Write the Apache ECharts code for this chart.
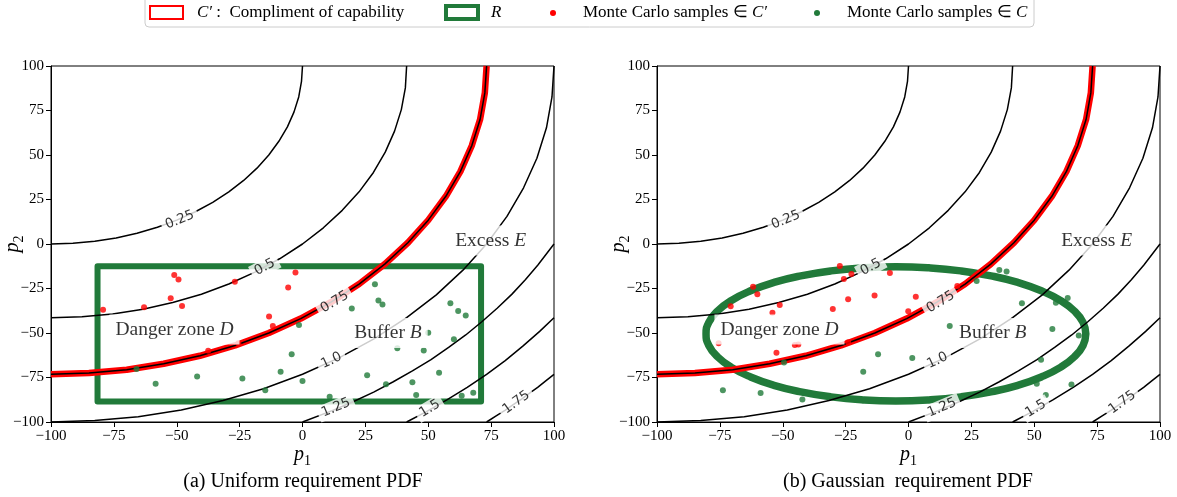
<!DOCTYPE html>
<html><head><meta charset="utf-8">
<script src="https://cdn.jsdelivr.net/npm/echarts@6/dist/echarts.min.js"></script>
<style>html,body{margin:0;padding:0;background:#fff}#c{width:1177px;height:497px}</style>
</head><body><div id="c"></div>
<script>
// ---- data ----
const xTicks = [-100, -75, -50, -25, 0, 25, 50, 75, 100];
const yTicks = [-100, -75, -50, -25, 0, 25, 50, 75, 100];
const contourLevels = ['0.25', '0.5', '0.75', '1.0', '1.25', '1.5', '1.75'];
const c025 = [[-100,0],[-91.3,0.4],[-82.6,1.5],[-74.1,3.4],[-65.8,6.0],[-57.7,9.4],[-50,13.4],[-42.6,18.1],[-35.7,23.4],[-29.3,29.3],[-23.4,35.7],[-18.1,42.6],[-13.4,50],[-9.4,57.7],[-6.0,65.8],[-3.4,74.1],[-1.5,82.6],[-0.4,91.3],[0,100]];
const c050 = [[-100,-41.4],[-87.7,-40.9],[-75.5,-39.3],[-63.4,-36.6],[-51.6,-32.9],[-40.2,-28.2],[-29.3,-22.5],[-18.9,-15.8],[-9.1,-8.3],[0,0],[8.3,9.1],[15.8,18.9],[22.5,29.3],[28.2,40.2],[32.9,51.6],[36.6,63.4],[39.3,75.5],[40.9,87.7],[41.4,100]];
const c075 = [[-100,-73.2],[-84.9,-72.5],[-69.9,-70.6],[-55.2,-67.3],[-40.8,-62.8],[-26.8,-57.0],[-13.4,-50],[-0.7,-41.9],[11.3,-32.7],[22.5,-22.5],[32.7,-11.3],[41.9,0.7],[50,13.4],[57.0,26.8],[62.8,40.8],[67.3,55.2],[70.6,69.9],[72.5,84.9],[73.2,100]];
const c100 = [[-100,-100],[-82.6,-99.2],[-65.3,-97.0],[-48.2,-93.2],[-31.6,-87.9],[-15.5,-81.3],[0,-73.2],[14.7,-63.8],[28.6,-53.2],[41.4,-41.4],[53.2,-28.6],[63.8,-14.7],[73.2,0],[81.3,15.5],[87.9,31.6],[93.2,48.2],[97.0,65.3],[99.2,82.6],[100,100]];
const c125 = [[0,-100],[11.8,-93.6],[20.1,-88.6],[28.3,-83.2],[36.1,-77.4],[43.7,-71.3],[51.1,-64.9],[58.1,-58.1],[64.9,-51.1],[71.3,-43.7],[77.4,-36.1],[83.2,-28.3],[88.6,-20.1],[93.6,-11.8],[100,0]];
const c150 = [[41.4,-100],[49.1,-94.3],[57.4,-87.6],[65.5,-80.6],[73.2,-73.2],[80.6,-65.5],[87.6,-57.4],[94.3,-49.1],[100,-41.4]];
const c175 = [[73.2,-100],[77.0,-96.6],[80.5,-93.5],[83.8,-90.3],[87.1,-87.1],[90.3,-83.8],[93.5,-80.5],[96.6,-77.0],[100,-73.2]];
const contourLabelAt = [[-48.8,13.5],[-15,-13],[12.8,-32.6],[11.5,-65.5],[13.3,-92],[50.6,-92.5],[85,-89]];
const contourLabelRot = [22, 28, 31, 25, 23, 31, 36];

const rectR = [[-81.5,-12.5],[71,-12.5],[71,-88.5],[-81.5,-88.5],[-81.5,-12.5]];
const ellipseR = [[70.5,-50.5],[69.4,-44.0],[65.9,-37.6],[60.4,-31.7],[52.8,-26.3],[43.5,-21.6],[32.8,-17.9],[20.8,-15.1],[8.1,-13.4],[-5,-12.8],[-18.1,-13.4],[-30.8,-15.1],[-42.8,-17.9],[-53.5,-21.6],[-62.8,-26.3],[-70.4,-31.7],[-75.9,-37.6],[-79.4,-44.0],[-80.5,-50.5],[-79.4,-57.0],[-75.9,-63.4],[-70.4,-69.3],[-62.8,-74.7],[-53.5,-79.4],[-42.8,-83.1],[-30.8,-85.9],[-18.1,-87.6],[-5,-88.2],[8.1,-87.6],[20.8,-85.9],[32.8,-83.1],[43.5,-79.4],[52.8,-74.7],[60.4,-69.3],[65.9,-63.4],[69.4,-57.0],[70.5,-50.5]];

const leftRed = [[-51.0,-17.4],[-49.3,-20.0],[-26.9,-21.2],[-2.8,-16.0],[-5.7,-24.4],[-52.4,-30.5],[-79.3,-36.9],[-63.0,-35.6],[-47.9,-34.8],[-13.3,-40.8],[-11.8,-46.1],[-37.5,-60.0],[-25.5,-55.8]];
const leftGreen = [[28.8,-22.6],[30.2,-31.8],[31.8,-34.0],[19.6,-36.3],[58.8,-33.3],[61.9,-37.7],[64.9,-40.1],[-1.4,-45.5],[50.0,-49.8],[60.2,-53.5],[37.7,-58.6],[48.2,-59.8],[-4.3,-62.0],[-8.7,-71.7],[0,-77.0],[-23.9,-75.5],[-41.9,-74.5],[-58.4,-78.5],[-66.0,-70.2],[-14.8,-82.2],[25.7,-73.8],[33.2,-78.8],[43.7,-77.7],[54.3,-72.3],[45.2,-84.8],[63.3,-85.2],[67.9,-83.5],[10.8,-85.8]];
const rightRed = [[-60.1,-28.2],[-61.8,-24.0],[-51.2,-34.3],[-54.1,-38.6],[-70.7,-35.0],[-24.0,-31.0],[-13.5,-29.0],[-30.1,-36.5],[-25.7,-19.7],[-22.7,-16.9],[-7.4,-16.3],[2.9,-29.6],[-0.1,-37.8],[19.4,-23.6],[-75.5,-55.8],[-52.5,-61.1],[-45.2,-56.7],[-43.8,-56.4],[-24.0,-55.2],[-27.3,-12.4]];
const rightGreen = [[36.1,-14.6],[39.0,-15.4],[27.1,-20.8],[45.1,-33.3],[58.6,-33.0],[63.3,-30.3],[16.4,-46.1],[57.2,-47.8],[67.7,-51.4],[-12.1,-61.9],[1.5,-64.0],[-18.0,-71.7],[52.7,-65.0],[51.0,-78.5],[64.8,-79.0],[54.6,-84.8],[-73.8,-82.2],[-58.8,-83.7],[-42.2,-87.4],[-49.5,-66.6]];

const annotationPlain = ['Danger zone ', 'Buffer ', 'Excess '];
const annotationItalic = ['D', 'B', 'E'];
const annotationLeft = [[-50.9,-48],[34,-50],[74.8,2]];
const annotationRight = [[-51.3,-48],[33.5,-50],[74.8,2]];
const captions = ['(a) Uniform requirement PDF', '(b) Gaussian  requirement PDF'];

// ---- styling ----
const GREEN = '#217a3a', RED = '#ff0000';
const SERIF = 'Liberation Serif';
const contourData = [c025, c050, c075, c100, c125, c150, c175];
const gridBoxes = [{left:51, top:66, width:503, height:356}, {left:657, top:66, width:503, height:356}];
const fmt = v => String(v).replace('-', '\u2212');
const nameRich = {
  i: {fontFamily: SERIF, fontStyle: 'italic', fontSize: 20, color: '#000', verticalAlign: 'top'},
  s: {fontFamily: SERIF, fontSize: 14, color: '#000', padding: [9, 0, 0, 0], verticalAlign: 'top'}
};
const italicRich = {
  n: {fontFamily: SERIF, fontSize: 19.5, color: '#000'},
  i: {fontFamily: SERIF, fontStyle: 'italic', fontSize: 19.5, color: '#000'}
};

const grid = gridBoxes.map(b => Object.assign({show: true, borderColor: '#000', borderWidth: 1,
  backgroundColor: 'transparent', containLabel: false, outerBoundsMode: 'none'}, b));
const axisCommon = (ticks) => ({
  type: 'value', min: ticks[0], max: ticks[ticks.length - 1], interval: ticks[1] - ticks[0],
  axisLine: {show: true, onZero: false, lineStyle: {color: '#000', width: 1}},
  axisTick: {show: true, inside: false, length: 5, lineStyle: {color: '#000'}},
  axisLabel: {formatter: fmt, fontFamily: SERIF, fontSize: 15, color: '#000', margin: 7},
  splitLine: {show: false}
});
const xAxis = [0, 1].map(g => Object.assign(axisCommon(xTicks), {
  gridIndex: g, name: '{i|p}{s|1}', nameLocation: 'middle', nameGap: 23, nameMoveOverlap: false,
  nameTextStyle: {rich: nameRich}
}));
const yAxis = [0, 1].map(g => Object.assign(axisCommon(yTicks), {
  gridIndex: g, name: '{i|p}{s|2}', nameLocation: 'middle', nameGap: 25, nameRotate: 90, nameMoveOverlap: false,
  nameTextStyle: {rich: nameRich}
}));

const series = [];
[0, 1].forEach(g => {
  series.push({
    name: 'R', type: 'line', xAxisIndex: g, yAxisIndex: g, data: g === 0 ? rectR : ellipseR,
    smooth: g === 1, symbol: 'none', z: 2, silent: true,
    lineStyle: {color: GREEN, width: g === 0 ? 6 : 7.5, join: 'round', cap: 'round'}
  });
  series.push({
    name: 'C\u2032', type: 'line', xAxisIndex: g, yAxisIndex: g, data: c075,
    symbol: 'none', z: 3, silent: true,
    lineStyle: {color: RED, width: 6.5, join: 'round'}
  });
  contourData.forEach((d) => series.push({
    type: 'line', xAxisIndex: g, yAxisIndex: g, data: d, symbol: 'none', z: 4, silent: true,
    lineStyle: {color: '#000', width: 1.5, join: 'round'}
  }));
  series.push({
    name: 'samples C\u2032', type: 'scatter', xAxisIndex: g, yAxisIndex: g, data: g === 0 ? leftRed : rightRed,
    symbolSize: 6, z: 5, itemStyle: {color: RED}
  });
  series.push({
    name: 'samples C', type: 'scatter', xAxisIndex: g, yAxisIndex: g, data: g === 0 ? leftGreen : rightGreen,
    symbolSize: 6, z: 5, itemStyle: {color: GREEN}
  });
  series.push({
    type: 'scatter', xAxisIndex: g, yAxisIndex: g, symbolSize: 0.01, z: 10, silent: true,
    itemStyle: {color: 'transparent'},
    data: contourLabelAt.map((p, k) => ({value: p, name: contourLevels[k], label: {rotate: contourLabelRot[k]}})),
    label: {show: true, position: 'inside', formatter: p => p.name, fontFamily: 'DejaVu Sans', fontSize: 13.5,
      color: '#000', backgroundColor: '#fff', padding: [1, 4]}
  });
  series.push({
    type: 'scatter', xAxisIndex: g, yAxisIndex: g, symbolSize: 0.01, z: 11, silent: true,
    itemStyle: {color: 'transparent'},
    data: (g === 0 ? annotationLeft : annotationRight).map((p, k) => ({value: p, name: String(k)})),
    label: {show: true, position: 'inside',
      formatter: p => '{n|' + annotationPlain[+p.name] + '}{i|' + annotationItalic[+p.name] + '}',
      rich: italicRich, backgroundColor: '#fff', padding: [5, 6]}
  });
});

const legendY = 13;
const legRich = {i: {fontFamily: SERIF, fontStyle: 'italic', fontSize: 17}, n: {fontFamily: SERIF, fontSize: 17}};
const graphic = [
  {type: 'rect', shape: {x: 145, y: -4, width: 889, height: 31, r: 4}, style: {fill: '#fff', stroke: '#cccccc', lineWidth: 1}, z: 100},
  {type: 'rect', shape: {x: 150, y: 6, width: 33, height: 13}, style: {fill: 'none', stroke: RED, lineWidth: 2}, z: 101},
  {type: 'text', x: 197, y: legendY, style: {text: '{i|C\u2032}{n| :  Compliment of capability}', verticalAlign: 'middle', rich: legRich}, z: 101},
  {type: 'rect', shape: {x: 446, y: 6, width: 32, height: 13}, style: {fill: 'none', stroke: GREEN, lineWidth: 4}, z: 101},
  {type: 'text', x: 491, y: legendY, style: {text: 'R', fontFamily: SERIF, fontStyle: 'italic', fontSize: 17, verticalAlign: 'middle'}, z: 101},
  {type: 'circle', shape: {cx: 553, cy: legendY, r: 3}, style: {fill: RED}, z: 101},
  {type: 'text', x: 583, y: legendY, style: {text: '{n|Monte Carlo samples \u2208 }{i|C\u2032}', verticalAlign: 'middle', rich: legRich}, z: 101},
  {type: 'circle', shape: {cx: 817, cy: legendY, r: 3}, style: {fill: GREEN}, z: 101},
  {type: 'text', x: 847, y: legendY, style: {text: '{n|Monte Carlo samples \u2208 }{i|C}', verticalAlign: 'middle', rich: legRich}, z: 101},
  {type: 'text', x: 303, y: 482, style: {text: captions[0], fontFamily: SERIF, fontSize: 20, align: 'center', verticalAlign: 'middle', fill: '#000'}},
  {type: 'text', x: 908, y: 482, style: {text: captions[1], fontFamily: SERIF, fontSize: 20, align: 'center', verticalAlign: 'middle', fill: '#000'}}
];

const chart = echarts.init(document.getElementById('c'), null, {renderer: 'canvas'});
chart.setOption({animation: false, backgroundColor: '#fff', grid, xAxis, yAxis, series, graphic});
</script></body></html>
